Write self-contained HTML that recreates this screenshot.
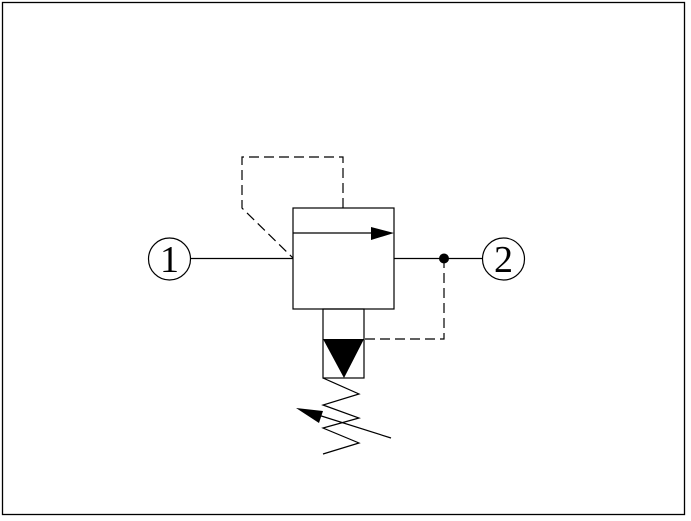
<!DOCTYPE html>
<html><head><meta charset="utf-8"><style>
html,body{margin:0;padding:0;background:#fff;}
svg{display:block;}
</style></head><body>
<svg width="691" height="521" viewBox="0 0 691 521" xmlns="http://www.w3.org/2000/svg">
<rect x="2.5" y="2.5" width="682" height="512" fill="none" stroke="#000" stroke-width="1.3"/>
<g stroke="#000" stroke-width="1.2" fill="none">
<circle cx="169.5" cy="259" r="21"/>
<circle cx="503.5" cy="259" r="21"/>
<line x1="190.5" y1="258.5" x2="293" y2="258.5"/>
<line x1="394" y1="258.5" x2="482.5" y2="258.5"/>
<rect x="293" y="208" width="101" height="101"/>
<line x1="293" y1="233" x2="372" y2="233"/>
<rect x="323" y="309" width="41" height="69"/>
<g stroke-dasharray="10,5">
<polyline points="343,208 343,157 242,157 242,208 293,258"/>
<polyline points="444,258 444,339 364,339"/>
</g>
<polyline points="323,378 359,394 323,405 359,418 323,428 359,443 323,454"/>
<line x1="391" y1="438" x2="315" y2="414"/>
</g>
<polygon points="371,227 394,233 371,240" fill="#000"/>
<polygon points="323,339 364,339 344,378" fill="#000"/>
<polygon points="296,408 323,411 319,423" fill="#000"/>
<circle cx="444" cy="258.5" r="5" fill="#000"/>
<text x="169.5" y="272" font-family="Liberation Serif, serif" font-size="38" text-anchor="middle">1</text>
<text x="503.5" y="272" font-family="Liberation Serif, serif" font-size="38" text-anchor="middle">2</text>
</svg>
</body></html>
